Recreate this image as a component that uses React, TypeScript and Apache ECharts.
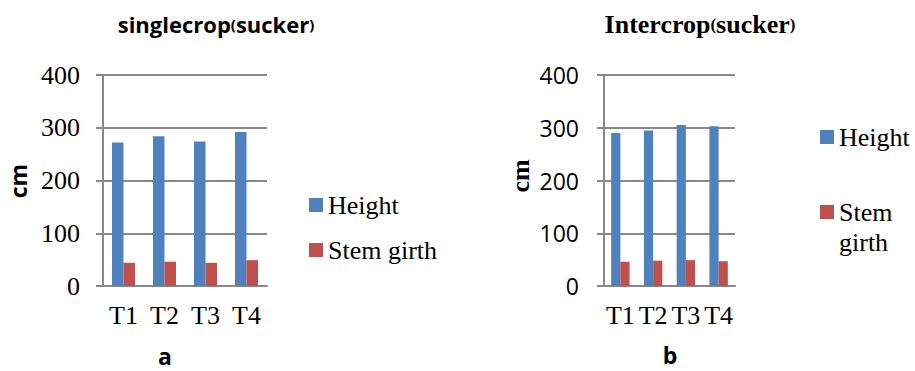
import React, { useEffect, useRef } from "react";
import * as echarts from "echarts";

// Treatments on the category axis
const categories = ["T1", "T2", "T3", "T4"];

// Single crop (sucker) measurements, cm
const singleHeight = [272, 284, 274, 292];
const singleGirth = [44, 46, 44, 49];

// Intercrop (sucker) measurements, cm
const interHeight = [290, 295, 305, 303];
const interGirth = [46, 48, 49, 47];

// Value axis range shared by both panels
const yMin = 0;
const yMax = 400;
const yStep = 100;

const BLUE = "#4F81BD";
const RED = "#C0504D";
const GRID_GRAY = "#898989";
const SERIF = "Liberation Serif";
const SANS = "Open Sans";

// Rich-text token style so each label keeps its own family
const tok = (family: string, size: number, weight = "normal", lineHeight?: number) => ({
  fontFamily: family,
  fontSize: size,
  fontWeight: weight,
  color: "#000",
  fill: "#000",
  ...(lineHeight ? { lineHeight } : {}),
});

function valueAxis(gridIndex: number, labelFont: string, labelSize: number, margin: number) {
  return {
    type: "value",
    gridIndex,
    min: yMin,
    max: yMax,
    interval: yStep,
    axisLine: { show: true, lineStyle: { color: GRID_GRAY, width: 2 } },
    axisTick: { show: true, length: 7, lineStyle: { color: GRID_GRAY, width: 2 } },
    splitLine: { show: true, lineStyle: { color: GRID_GRAY, width: 2 } },
    axisLabel: {
      fontFamily: labelFont,
      fontSize: labelSize,
      color: "#000",
      margin,
      formatter: (v: number) => `{s|${v}}`,
      rich: { s: tok(labelFont, labelSize) },
    },
  };
}

function categoryAxis(gridIndex: number) {
  return {
    type: "category",
    gridIndex,
    data: categories,
    axisLine: { show: true, lineStyle: { color: GRID_GRAY, width: 2 } },
    axisTick: { show: false },
    axisLabel: {
      fontFamily: SERIF,
      fontSize: 26,
      color: "#000",
      margin: 16,
      interval: 0,
      formatter: (v: string) => `{s|${v}}`,
      rich: { s: tok(SERIF, 26) },
    },
  };
}

function bars(name: string, data: number[], color: string, idx: number, width: number) {
  return {
    type: "bar",
    name,
    data,
    xAxisIndex: idx,
    yAxisIndex: idx,
    barWidth: width,
    barGap: "0%",
    itemStyle: { color },
  };
}

export default function App() {
  const ref = useRef<HTMLDivElement>(null);

  useEffect(() => {
    if (!ref.current) return;
    const chart = echarts.init(ref.current, undefined, { renderer: "svg" });

    const legendBase = {
      orient: "vertical",
      icon: "rect",
      itemWidth: 14,
      itemHeight: 14,
      padding: 0,
      selectedMode: false,
      textStyle: {
        fontFamily: SERIF,
        fontSize: 26,
        color: "#000",
        lineHeight: 30,
        rich: { s: tok(SERIF, 26, "normal", 30) },
      },
    };

    chart.setOption({
      animation: false,
      backgroundColor: "#fff",
      grid: [
        { left: 103, top: 75, width: 164, height: 211 },
        { left: 604, top: 75, width: 131, height: 211 },
      ],
      xAxis: [categoryAxis(0), categoryAxis(1)],
      yAxis: [valueAxis(0, SERIF, 26, 23), valueAxis(1, SANS, 23, 25)],
      legend: [
        {
          ...legendBase,
          left: 309,
          top: 190,
          itemGap: 15,
          data: ["Height", "Stem girth"],
          formatter: (n: string) => `{s|${n}}`,
        },
        {
          ...legendBase,
          left: 820,
          top: 122,
          data: ["Height"],
          formatter: (n: string) => `{s|${n}}`,
        },
        {
          ...legendBase,
          left: 820,
          top: 167,
          data: ["Stem girth"],
          // blank first line keeps "Stem" level with the swatch
          formatter: () => "{s| }\n{s|Stem}\n{s|girth}",
        },
      ],
      series: [
        bars("Height", singleHeight, BLUE, 0, 11.5),
        bars("Stem girth", singleGirth, RED, 0, 11.5),
        bars("Height", interHeight, BLUE, 1, 9.2),
        bars("Stem girth", interGirth, RED, 1, 9.2),
      ],
      graphic: [
        {
          type: "text",
          x: 216,
          y: 24,
          style: {
            text: "{t|singlecrop}{p|(}{t|sucker}{p|)}",
            fontFamily: SANS,
            fontWeight: "bold",
            fontSize: 22,
            fill: "#000",
            align: "center",
            verticalAlign: "middle",
            rich: { t: tok(SANS, 22, "bold"), p: tok(SANS, 15, "bold") },
          },
        },
        {
          type: "text",
          x: 700,
          y: 24,
          style: {
            text: "{t|Intercrop}{p|(}{t|sucker}{p|)}",
            fontFamily: SERIF,
            fontWeight: "bold",
            fontSize: 26,
            fill: "#000",
            align: "center",
            verticalAlign: "middle",
            rich: { t: tok(SERIF, 26, "bold"), p: tok(SERIF, 17, "bold") },
          },
        },
        {
          type: "text",
          x: 18,
          y: 181,
          rotation: Math.PI / 2,
          style: {
            text: "{s|cm}",
            fontFamily: SANS,
            fontWeight: "bold",
            fontSize: 23,
            fill: "#000",
            align: "center",
            verticalAlign: "middle",
            rich: { s: tok(SANS, 23, "bold") },
          },
        },
        {
          type: "text",
          x: 520,
          y: 176,
          rotation: Math.PI / 2,
          style: {
            text: "{s|cm}",
            fontFamily: SERIF,
            fontWeight: "bold",
            fontSize: 26,
            fill: "#000",
            align: "center",
            verticalAlign: "middle",
            rich: { s: tok(SERIF, 26, "bold") },
          },
        },
        {
          type: "text",
          x: 165,
          y: 356,
          style: {
            text: "a",
            fontFamily: SANS,
            fontWeight: "bold",
            fontSize: 23,
            lineHeight: 23,
            fill: "#000",
            align: "center",
            verticalAlign: "middle",
          },
        },
        {
          type: "text",
          x: 670,
          y: 355,
          style: {
            text: "b",
            fontFamily: SANS,
            fontWeight: "bold",
            fontSize: 23,
            lineHeight: 23,
            fill: "#000",
            align: "center",
            verticalAlign: "middle",
          },
        },
      ],
    });

    return () => chart.dispose();
  }, []);

  return (
    <div
      ref={ref}
      style={{ position: "fixed", left: 0, top: 0, width: 915, height: 371, background: "#fff" }}
    />
  );
}
